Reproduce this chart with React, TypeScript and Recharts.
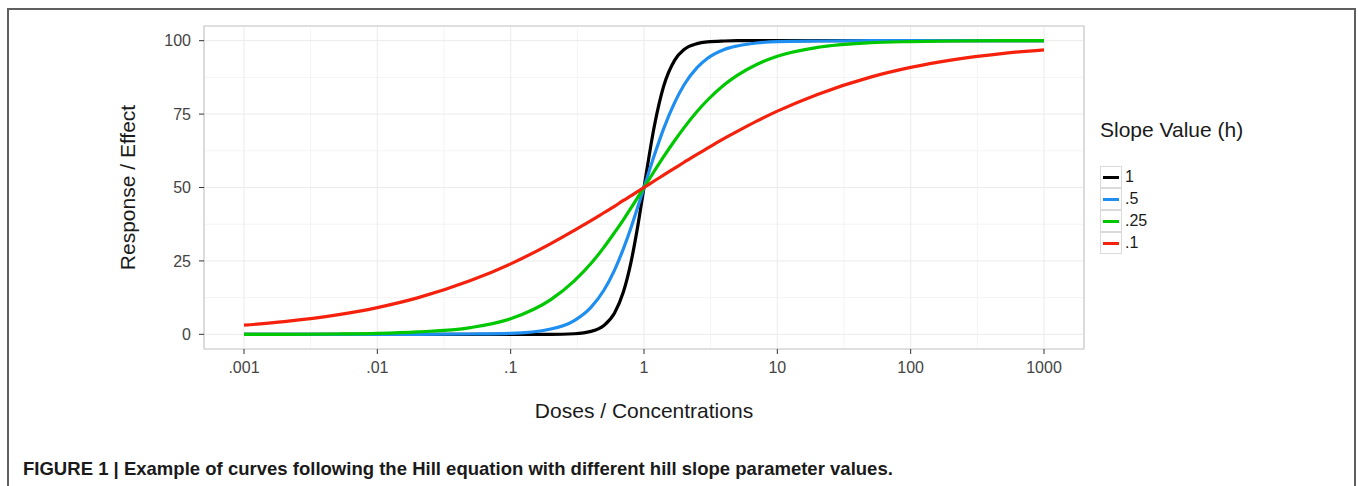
import React from "react";
import {
  LineChart,
  Line,
  XAxis,
  YAxis,
  CartesianGrid,
  ReferenceArea,
  Legend,
  Label,
} from "recharts";

// doses sampled along the x axis (log scale)
const doses = [
  0.001, 0.002, 0.005, 0.01, 0.02, 0.05, 0.1, 0.2, 0.3, 0.4, 0.5, 0.6, 0.7, 0.8, 0.9, 1,
  1.2, 1.4, 1.7, 2, 2.5, 3, 4, 5, 7, 10, 20, 50, 100, 200, 500, 1000,
];

// responses, one array per slope value
const slope1 = [
  0, 0, 0, 0, 0, 0, 0, 0, 0.2, 1, 3, 7.2, 14.4, 24.7, 37.1, 50,
  71.3, 84.3, 93.4, 97, 99, 99.6, 99.9, 100, 100, 100, 100, 100, 100, 100, 100, 100,
];
const slope05 = [
  0, 0, 0, 0, 0, 0.1, 0.3, 1.8, 4.7, 9.2, 15, 21.8, 29.1, 36.4, 43.5, 50,
  61.2, 69.9, 79, 85, 90.8, 94, 97, 98.2, 99.2, 99.7, 99.9, 100, 100, 100, 100, 100,
];
const slope025 = [
  0, 0, 0.1, 0.3, 0.8, 2.3, 5.3, 11.8, 18.2, 24.1, 29.6, 34.6, 39, 43.1, 46.7, 50,
  55.7, 60.4, 66, 70.4, 75.9, 79.8, 85, 88.2, 91.9, 94.7, 97.7, 99.3, 99.7, 99.9, 100, 100,
];
const slope01 = [
  3.1, 4.3, 6.6, 9.1, 12.4, 18.3, 24, 30.9, 35.4, 38.7, 41.4, 43.6, 45.6, 47.2, 48.7, 50,
  52.3, 54.2, 56.6, 58.6, 61.3, 63.4, 66.7, 69.1, 72.6, 76, 81.7, 87.6, 90.9, 93.4, 95.7, 96.9,
];

const xTicks = [0.001, 0.01, 0.1, 1, 10, 100, 1000];
const xTickLabels = [".001", ".01", ".1", "1", "10", "100", "1000"];
const xMinorTicks = [0.00316, 0.0316, 0.316, 3.16, 31.6, 316];
const yTicks = [0, 25, 50, 75, 100];
const yMinorTicks = [12.5, 37.5, 62.5, 87.5];

const series = [
  { key: "h1", name: "1", color: "#000000", values: slope1 },
  { key: "h05", name: ".5", color: "#1f8ef1", values: slope05 },
  { key: "h025", name: ".25", color: "#00c800", values: slope025 },
  { key: "h01", name: ".1", color: "#f5210c", values: slope01 },
];

const data = doses.map((d, i) => {
  const row: Record<string, number> = { dose: d };
  series.forEach((s) => {
    row[s.key] = s.values[i];
  });
  return row;
});

const xDomain = [Math.pow(10, -3.3), Math.pow(10, 3.3)];
const yDomain = [-5, 105];

const FONT = '"Liberation Sans", Arial, Helvetica, sans-serif';

function LegendBox() {
  return (
    <div style={{ fontFamily: FONT, color: "#1a1a1a" }}>
      <div style={{ fontSize: 21, lineHeight: "24px", whiteSpace: "nowrap" }}>Slope Value (h)</div>
      <div style={{ marginTop: 24 }}>
        {series.map((s) => (
          <div key={s.key} style={{ display: "flex", alignItems: "center", height: 22 }}>
            <div
              style={{
                width: 22,
                height: 22,
                boxSizing: "border-box",
                border: "1px solid #dadada",
                display: "flex",
                alignItems: "center",
                justifyContent: "center",
              }}
            >
              <div style={{ width: 16, height: 3, background: s.color }} />
            </div>
            <span style={{ fontSize: 16, marginLeft: 3, color: "#1a1a1a" }}>{s.name}</span>
          </div>
        ))}
      </div>
    </div>
  );
}

export default function App() {
  return (
    <div
      style={{
        position: "absolute",
        left: 0,
        top: 0,
        width: 1358,
        height: 486,
        overflow: "hidden",
        background: "#ffffff",
        fontFamily: FONT,
      }}
    >
      <div
        style={{
          position: "absolute",
          left: 7,
          top: 8,
          width: 1349,
          height: 500,
          boxSizing: "border-box",
          border: "2px solid #5f5f5f",
          borderBottom: "none",
        }}
      />
      <div style={{ position: "absolute", left: 0, top: 0 }}>
        <LineChart
          width={1358}
          height={486}
          data={data}
          margin={{ top: 26, right: 274, left: 144, bottom: 107 }}
        >
          <XAxis xAxisId="minor" dataKey="dose" type="number" scale="log" domain={xDomain} ticks={xMinorTicks} allowDataOverflow hide />
          <YAxis yAxisId="minor" type="number" domain={yDomain} ticks={yMinorTicks} allowDataOverflow hide />
          <CartesianGrid xAxisId="minor" yAxisId="minor" stroke="#f4f4f4" strokeWidth={1} />
          <CartesianGrid stroke="#ebebeb" strokeWidth={1} />
          <XAxis
            dataKey="dose"
            type="number"
            scale="log"
            domain={xDomain}
            ticks={xTicks}
            allowDataOverflow
            tickFormatter={(v: number) => xTickLabels[xTicks.indexOf(v)] ?? String(v)}
            tick={{ fill: "#444444", fontSize: 16 }}
            tickLine={{ stroke: "#333333" }}
            tickSize={5}
            tickMargin={8}
            axisLine={false}
            height={30}
          >
            <Label value="Doses / Concentrations" position="bottom" offset={24} style={{ fontSize: 21, fill: "#1a1a1a" }} />
          </XAxis>
          <YAxis
            type="number"
            domain={yDomain}
            ticks={yTicks}
            allowDataOverflow
            tick={{ fill: "#444444", fontSize: 16 }}
            tickLine={{ stroke: "#333333" }}
            tickSize={5}
            tickMargin={8}
            axisLine={false}
            width={60}
          >
            <Label
              value="Response / Effect"
              angle={-90}
              position="left"
              offset={16}
              textAnchor="middle"
              style={{ fontSize: 21, fill: "#1a1a1a", textAnchor: "middle" }}
            />
          </YAxis>
          <ReferenceArea
            x1={xDomain[0]}
            x2={xDomain[1]}
            y1={yDomain[0]}
            y2={yDomain[1]}
            fill="none"
            stroke="#cccccc"
            strokeWidth={1.2}
            ifOverflow="visible"
          />
          {series.map((s) => (
            <Line
              key={s.key}
              dataKey={s.key}
              name={s.name}
              type="monotone"
              stroke={s.color}
              strokeWidth={3.2}
              dot={false}
              isAnimationActive={false}
            />
          ))}
          <Legend
            layout="vertical"
            align="center"
            verticalAlign="middle"
            content={() => <LegendBox />}
            wrapperStyle={{ left: 1100, top: 118, width: 200 }}
          />
        </LineChart>
      </div>
      <div
        style={{
          position: "absolute",
          left: 23,
          top: 458,
          fontSize: 19,
          fontWeight: "bold",
          color: "#1a1a1a",
          whiteSpace: "nowrap",
          transform: "scaleX(0.975)",
          transformOrigin: "left top",
        }}
      >
        FIGURE 1 | Example of curves following the Hill equation with different hill slope parameter values.
      </div>
    </div>
  );
}
